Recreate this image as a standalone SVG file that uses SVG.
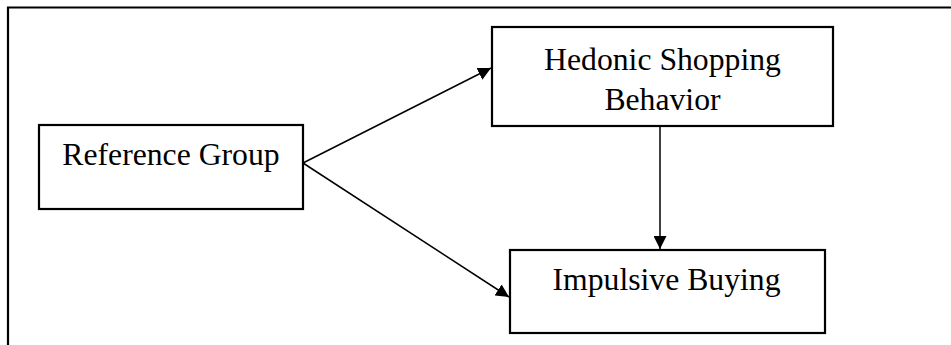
<svg xmlns="http://www.w3.org/2000/svg" width="951" height="345" viewBox="0 0 951 345">
<style>
.box{fill:#fff;stroke:#000;stroke-width:2.2}
.t{font-family:"Liberation Serif","Times New Roman",serif;font-size:31.7px;fill:#000;text-anchor:middle}
.c{stroke:#000;stroke-width:1.5;fill:none;marker-end:url(#ah)}
</style>
<defs>
<marker id="ah" viewBox="0 0 10 10" refX="10" refY="5" markerWidth="13" markerHeight="13" markerUnits="userSpaceOnUse" orient="auto">
<path d="M0,0 L10,5 L0,10 z" fill="#000"/>
</marker>
</defs>
<rect width="951" height="345" fill="#fff"/>
<path d="M8,345 V7.5 H951" fill="none" stroke="#000" stroke-width="2.2"/>
<g id="reference-group">
<rect class="box" x="39" y="125" width="264" height="84"/>
<text class="t" x="171" y="165">Reference Group</text>
</g>
<g id="hedonic">
<rect class="box" x="492" y="27" width="341" height="99"/>
<text class="t" x="662.5" y="70">Hedonic Shopping</text>
<text class="t" x="662.5" y="110">Behavior</text>
</g>
<g id="impulsive">
<rect class="box" x="510" y="250" width="315" height="83"/>
<text class="t" x="666.5" y="290">Impulsive Buying</text>
</g>
<g id="connectors">
<line class="c" x1="303" y1="163" x2="491" y2="68"/>
<line class="c" x1="303" y1="163" x2="509" y2="297"/>
<line class="c" x1="660" y1="126" x2="660" y2="249"/>
</g>
</svg>
